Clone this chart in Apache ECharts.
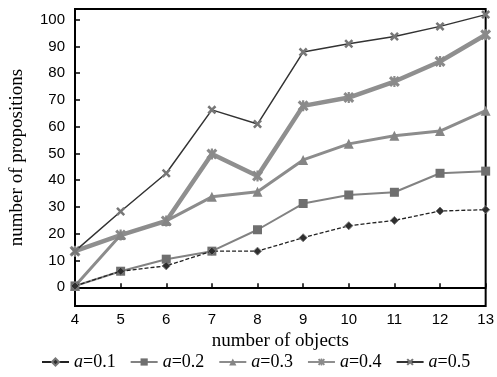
<!DOCTYPE html>
<html>
<head>
<meta charset="utf-8">
<script src="https://cdn.jsdelivr.net/npm/echarts@6/dist/echarts.min.js"></script>
<style>
  html, body { margin: 0; padding: 0; background: #fff; }
  #chart { width: 497px; height: 377px; }
</style>
</head>
<body>
<div id="chart"></div>
<script>
"use strict";

// x 轴：对象个数
var objects = [4, 5, 6, 7, 8, 9, 10, 11, 12, 13];
var yTicks = [0, 10, 20, 30, 40, 50, 60, 70, 80, 90, 100];
var names = ["a=0.1", "a=0.2", "a=0.3", "a=0.4", "a=0.5"];

// 命题数
var a01 = [0.5, 6, 8, 13.5, 13.5, 18.5, 23, 25, 28.5, 29];
var a02 = [0.5, 6, 10.5, 13.5, 21.5, 31.3, 34.5, 35.5, 42.6, 43.4];
var a03 = [0.5, 19.5, 24.8, 33.8, 35.7, 47.6, 53.6, 56.6, 58.4, 66];
var a04 = [13.5, 19.5, 24.8, 49.8, 41.6, 67.8, 70.9, 76.9, 84.4, 94.4];
var a05 = [13.5, 28.3, 42.6, 66.3, 61, 87.9, 91, 93.7, 97.5, 101.9];

var SERIF = "Liberation Serif";
var SANS = "Liberation Sans";
var crossPath = "path://M2,0L5,3L8,0L10,2L7,5L10,8L8,10L5,7L2,10L0,8L3,5L0,2Z";
var starPath = "path://M2,0L5,3L8,0L10,2L7,5L10,8L8,10L5,7L2,10L0,8L3,5L0,2ZM4,0L6,0L6,10L4,10Z";

function pairs(vals) {
  return objects.map(function (x, i) { return [x, vals[i]]; });
}

function initChart() {
  var myChart = echarts.init(document.getElementById("chart"));
  var option = {
    animation: false,
    backgroundColor: "#fff",
    grid: {
      left: 74, right: 3, top: 9, bottom: 71,
      show: true, borderColor: "#000", borderWidth: 2
    },
    legend: {
      left: 36, top: 348,
      itemWidth: 27, itemHeight: 9, itemGap: 14,
      data: names.map(function (n, i) {
        return i === 0 ? { name: n, lineStyle: { type: "solid" } } : { name: n };
      }),
      textStyle: {
        fontFamily: SERIF, fontSize: 18, color: "#000",
        rich: { i: { fontFamily: SERIF, fontSize: 18, fontStyle: "italic", color: "#000" } }
      },
      formatter: function (n) {
        return "{i|a}" + n.slice(1);
      }
    },
    xAxis: {
      type: "value",
      min: 4, max: 13, interval: 1,
      name: "number of objects",
      nameLocation: "middle",
      nameGap: 26,
      nameTextStyle: { fontFamily: SERIF, fontSize: 19, color: "#000" },
      axisLine: { lineStyle: { color: "#000", width: 2 } },
      axisTick: { inside: true, length: 4, lineStyle: { color: "#000", width: 1.5 } },
      axisLabel: { fontFamily: SANS, fontSize: 15, color: "#000", margin: 6 },
      splitLine: { show: false }
    },
    yAxis: {
      type: "value",
      min: -7, max: 104,
      name: "number of propositions",
      nameLocation: "middle",
      nameGap: 48,
      nameTextStyle: { fontFamily: SERIF, fontSize: 19, color: "#000" },
      axisLine: { show: true, lineStyle: { color: "#000", width: 2 } },
      axisTick: { inside: true, length: 5, customValues: yTicks, lineStyle: { color: "#000", width: 1.5 } },
      axisLabel: { fontFamily: SANS, fontSize: 15, color: "#000", margin: 10, customValues: yTicks },
      splitLine: { show: false }
    },
    series: [
      {
        name: names[0], type: "line", data: pairs(a01), z: 6,
        symbol: "diamond", symbolSize: 8,
        itemStyle: { color: "#2e2e2e", borderColor: "#777", borderWidth: 1 },
        lineStyle: { color: "#222", width: 1.3, type: [4, 2] }
      },
      {
        name: names[1], type: "line", data: pairs(a02), z: 4,
        symbol: "rect", symbolSize: 9,
        itemStyle: { color: "#6f6f6f" },
        lineStyle: { color: "#828282", width: 2 }
      },
      {
        name: names[2], type: "line", data: pairs(a03), z: 3,
        symbol: "triangle", symbolSize: 10,
        itemStyle: { color: "#858585" },
        lineStyle: { color: "#8c8c8c", width: 3 }
      },
      {
        name: names[3], type: "line", data: pairs(a04), z: 2,
        symbol: starPath, symbolSize: 11,
        itemStyle: { color: "#8a8a8a" },
        lineStyle: { color: "#8f8f8f", width: 4.5 }
      },
      {
        name: names[4], type: "line", data: pairs(a05), z: 5,
        symbol: crossPath, symbolSize: 9,
        itemStyle: { color: "#777" },
        lineStyle: { color: "#333", width: 1.5 }
      }
    ]
  };
  myChart.setOption(option);
  return myChart;
}

initChart();
</script>
</body>
</html>
